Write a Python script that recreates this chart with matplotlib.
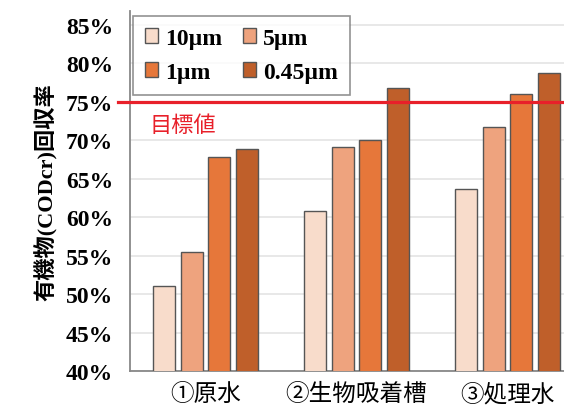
import numpy as np
import matplotlib.pyplot as plt
from matplotlib.ticker import FuncFormatter
import matplotlib.transforms as mtransforms

# recovery rate (%) per sampling point and filter size
groups = ['①原水', '②生物吸着槽', '③処理水']
sizes = ['10µm', '5µm', '1µm', '0.45µm']
r_10 = [51.1, 60.8, 63.7]
r_5 = [55.5, 69.1, 71.7]
r_1 = [67.8, 70.0, 76.0]
r_045 = [68.9, 76.8, 78.8]
target = 75
colors = ['#F8DCCB', '#EEA37E', '#E6773A', '#BF5F2A']

serif = ['Liberation Serif', 'Noto Sans CJK JP']
jp = ['Noto Sans CJK JP', 'DejaVu Sans']

fig = plt.figure(figsize=(5.64, 4.10), dpi=100)
ax = fig.add_axes([130/564, 38/410, 453/564, 360/410])

x = np.arange(len(groups))
step = 0.182
width = 0.148
bars = []
for i, (vals, c) in enumerate(zip([r_10, r_5, r_1, r_045], colors)):
	b = ax.bar(x + (i - 1.5) * step, vals, width, color=c, edgecolor='#555555',
		linewidth=1.0, label=sizes[i], zorder=3)
	bars.append(b)

ax.set_xlim(-0.5, 2.5)
ax.set_ylim(40, 86.8)
ax.set_yticks(np.arange(40, 86, 5))
ax.yaxis.set_major_formatter(FuncFormatter(lambda v, p: '%d%%' % v))
ax.grid(axis='y', color='#E4E4E4', linewidth=1.2, zorder=0)
ax.set_xticks(x)
ax.set_xticklabels(groups, family=jp, fontsize=17)
for lab in ax.get_yticklabels():
	lab.set_family(serif)
	lab.set_fontweight('bold')
	lab.set_fontsize(17)
ax.tick_params(length=0, pad=12)
ax.tick_params(axis='x', pad=8)
for s in ['top', 'right']:
	ax.spines[s].set_visible(False)
for s in ['left', 'bottom']:
	ax.spines[s].set_color('#888888')
	ax.spines[s].set_linewidth(1.3)

# target line, running a bit past the left spine
trans = mtransforms.blended_transform_factory(fig.transFigure, ax.transData)
ax.plot([118/564, 1.0], [target, target], color='#E8202A', linewidth=2.3,
	transform=trans, clip_on=False, zorder=4)
ax.text(-0.37, 72.1, '目標値', color='#E8202A', family=jp, fontsize=16,
	va='center', ha='left')

ax.set_ylabel('有機物(CODcr)回収率', family=serif, fontweight='bold', fontsize=16,
	labelpad=6)

order = [0, 2, 1, 3]
leg = fig.legend([bars[i] for i in order], [sizes[i] for i in order], ncol=2,
	loc='upper left', bbox_to_anchor=(133/564, 1 - 17/410), borderaxespad=0,
	prop={'family': serif, 'weight': 'bold', 'size': 17},
	frameon=True, fancybox=False, edgecolor='#777777',
	handlelength=0.55, handleheight=0.55, handletextpad=0.3,
	columnspacing=0.9, labelspacing=0.55, borderpad=0.5)
leg.get_frame().set_linewidth(1.2)

fig.savefig('out.png', dpi=100)
